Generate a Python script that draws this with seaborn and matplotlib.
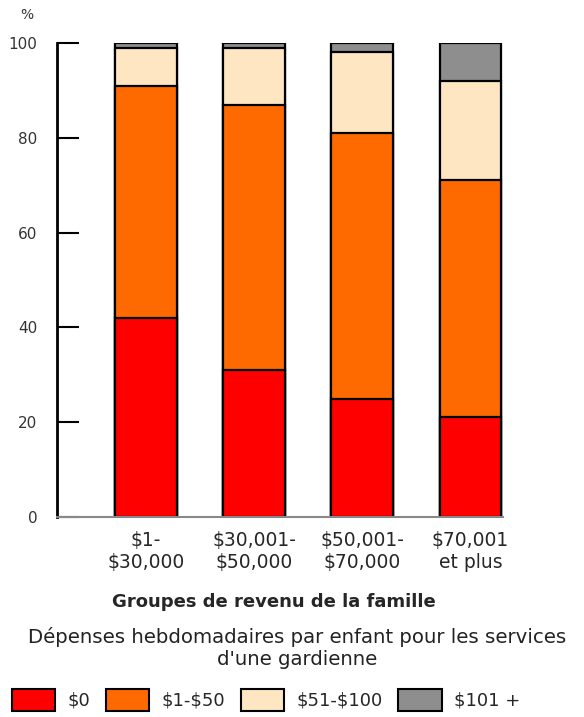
import pandas as pd
import matplotlib.pyplot as plt
import seaborn as sns
from matplotlib.patches import Patch

# Income groups and weekly babysitting spending per child (%)
groups = ["\\$1-\n\\$30,000", "\\$30,001-\n\\$50,000", "\\$50,001-\n\\$70,000", "\\$70,001\net plus"]
spend_0 = [42, 31, 25, 21]
spend_1_50 = [49, 56, 56, 50]
spend_51_100 = [8, 12, 17, 21]
spend_101 = [1, 1, 2, 8]

series = ["$0", "$1-$50", "$51-$100", "$101 +"]
colors = ["#ff0000", "#ff6a00", "#ffe6c2", "#8e8e8e"]

df = pd.DataFrame({"groupe": groups, "$0": spend_0, "$1-$50": spend_1_50,
                   "$51-$100": spend_51_100, "$101 +": spend_101})
cum = df[series].cumsum(axis=1)
cum["groupe"] = df["groupe"]

sns.set_style("white")
plt.rcParams["font.family"] = ["DejaVu Sans"]

fig = plt.figure(figsize=(5.84, 7.17), dpi=100)
ax = fig.add_axes([57 / 584, 1 - 517 / 717, 446 / 584, 474 / 717])

# draw cumulative layers, tallest first so lower layers sit on top
for name, col in reversed(list(zip(series, colors))):
    sns.barplot(data=cum, x="groupe", y=name, color=col, width=0.57,
                edgecolor="black", linewidth=1.6, saturation=1, ax=ax)

ax.set_xlim(-0.82, 3.3)
ax.set_ylim(0, 100)
ax.set_yticks([0, 20, 40, 60, 80, 100])
ax.tick_params(axis="y", left=True, direction="in", length=16, width=1.5, pad=14,
               labelsize=11, labelcolor="#333333", color="black")
ax.tick_params(axis="x", bottom=False, length=0, pad=10, labelsize=13.5)
for lbl in ax.get_xticklabels():
    lbl.set_linespacing(1.2)
ax.set_xlabel("")
ax.set_ylabel("")

sns.despine(ax=ax, top=True, right=True)
ax.spines["left"].set_linewidth(2)
ax.spines["left"].set_color("black")
ax.spines["bottom"].set_color("#888888")
ax.spines["bottom"].set_linewidth(1.5)

fig.text(20 / 584, 1 - 15 / 717, "%", fontsize=10, color="#333333", va="center")
fig.text(274 / 584, 1 - 602 / 717, "Groupes de revenu de la famille",
         fontsize=13, fontweight="bold", ha="center", va="center")
fig.text(297 / 584, 1 - 648 / 717,
         "Dépenses hebdomadaires par enfant pour les services\nd'une gardienne",
         fontsize=14.2, ha="center", va="center", linespacing=1.2, color="#222222")

legend_labels = [s.replace("$", "\\$") for s in series]
handles = [Patch(facecolor=c, edgecolor="black", linewidth=1.5) for c in colors]
fig.legend(handles, legend_labels, loc="center", bbox_to_anchor=(266 / 584, 1 - 700 / 717),
           ncol=4, frameon=False, fontsize=13, handlelength=2.4, handleheight=1.45,
           handletextpad=0.7, columnspacing=0.85, borderpad=0, borderaxespad=0)

fig.savefig("out.png", dpi=100)
